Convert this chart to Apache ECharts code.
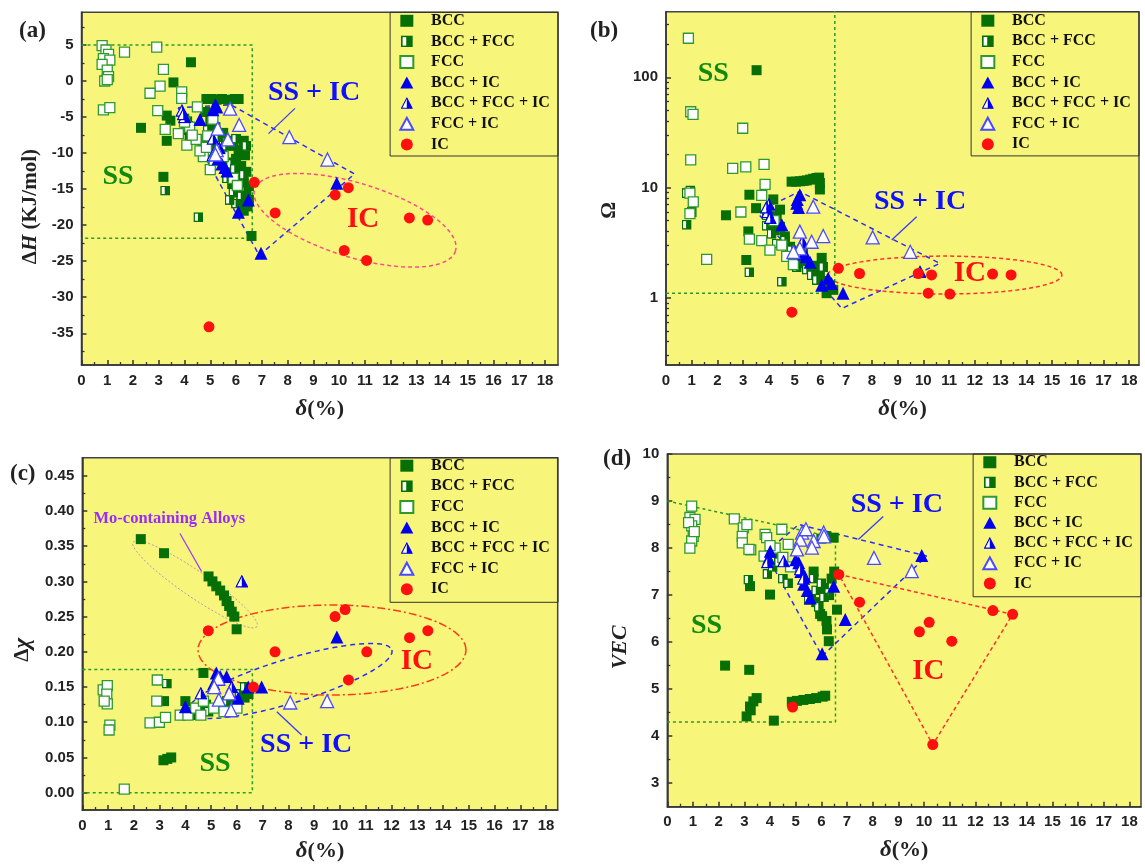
<!DOCTYPE html>
<html><head><meta charset="utf-8">
<script src="https://cdn.jsdelivr.net/npm/echarts@6/dist/echarts.min.js"></script>
<style>html,body{margin:0;padding:0;background:#fff}#c{width:1145px;height:866px}</style>
</head><body><div id="c"></div>
<script>
// ---------- names & tick labels ----------
const seriesNames = ['BCC','BCC + FCC','FCC','BCC + IC','BCC + FCC + IC','FCC + IC','IC'];
const xTickLabels = [0,1,2,3,4,5,6,7,8,9,10,11,12,13,14,15,16,17,18];
const yTickLabelsA = [5,0,-5,-10,-15,-20,-25,-30,-35];
const yTickLabelsB = [1,10,100];
const yTickLabelsC = [0,0.05,0.10,0.15,0.20,0.25,0.30,0.35,0.40,0.45];
const yTickLabelsD = [3,4,5,6,7,8,9,10];

// ---------- (a) delta vs dH ----------
const aBCC = [[4.25,2.6],[3.57,-0.2],[2.31,-6.5],[3.31,-4.8],[3.45,-5.5],[3.31,-8.3],[3.18,-13.3],[6.6,-21.5],[4.85,-2.5],[5.05,-2.5],[5.25,-2.6],[5.45,-2.5],[5.7,-2.6],[5.95,-2.5],[6.1,-2.5],[4.1,-5.6],[4.05,-6.8],[4.2,-7.8],[4.8,-4.3],[5.0,-5.5],[5.2,-6.4],[5.5,-7.2],[5.7,-8.3],[5.9,-9.0],[6.1,-9.6],[6.3,-8.3],[6.35,-10.3],[6.0,-10.8],[6.2,-11.8],[6.4,-12.6],[6.05,-13.1],[6.3,-14.1],[6.5,-14.6],[5.85,-14.3],[6.1,-15.4],[6.4,-15.9],[6.2,-16.9],[6.45,-17.4],[6.3,-18.0],[5.7,-12.1],[5.5,-11.0],[5.3,-9.5],[4.7,-8.5],[5.9,-11.3],[6.5,-16.5]];
const aBCCFCC = [[1.0,2.6],[3.25,-15.2],[4.54,-18.9],[4.0,-5.2],[4.15,-6.2],[4.5,-8.0],[4.9,-6.8],[5.0,-9.2],[5.3,-7.8],[5.45,-10.2],[5.6,-9.0],[5.65,-13.5],[5.8,-11.5],[5.95,-12.2],[6.1,-14.0],[6.2,-16.0],[5.9,-15.5],[6.0,-17.0],[6.3,-13.0],[6.4,-9.0],[6.0,-8.0],[5.75,-16.5]];
const aFCC = [[0.8,4.9],[0.95,4.3],[1.05,3.7],[0.85,3.1],[1.1,2.9],[0.8,2.3],[1.0,1.5],[1.05,0.6],[0.9,0.0],[1.0,0.2],[0.85,-4.0],[1.1,-3.7],[1.67,4.0],[2.92,4.7],[3.18,1.6],[3.05,-0.7],[2.66,-1.7],[3.89,-1.5],[3.89,-2.4],[2.96,-4.1],[4.5,-3.6],[3.25,-6.7],[3.76,-7.3],[4.09,-8.9],[4.73,-10.5],[4.2,-6.4],[4.0,-5.7],[4.45,-8.1],[4.6,-9.7],[4.85,-9.2],[5.0,-12.3],[5.15,-11.0],[5.5,-10.5],[5.9,-13.5],[6.05,-14.5],[4.3,-7.5],[4.9,-7.6],[5.1,-5.3]];
const aBCCIC = [[5.1,-4.0],[5.25,-3.6],[5.2,-3.3],[4.6,-5.35],[5.2,-10.0],[5.3,-10.8],[5.45,-11.5],[5.57,-12.0],[5.65,-12.5],[6.48,-16.5],[6.09,-18.2],[6.97,-23.9],[9.91,-14.2]];
const aBCCFCCIC = [[3.9,-4.1],[4.0,-5.0],[3.95,-4.6],[5.1,-10.3],[5.35,-9.3],[5.1,-8.0]];
const aFCCIC = [[5.77,-3.83],[6.12,-6.1],[5.29,-6.6],[5.68,-8.1],[5.25,-9.6],[5.2,-10.2],[8.07,-7.8],[9.55,-10.9]];
const aIC = [[6.71,-14.05],[7.52,-18.3],[9.85,-15.8],[10.36,-14.8],[10.2,-23.5],[11.07,-24.9],[12.73,-19.0],[13.44,-19.3],[4.95,-34.1]];

// ---------- (b) delta vs Omega ----------
const bBCC = [[3.52,116],[2.33,5.6],[3.24,8.6],[3.5,6.5],[3.12,2.2],[3.2,4.0],[4.88,11.3],[5.05,11.3],[5.21,11.4],[5.35,11.5],[5.47,11.6],[5.6,11.8],[5.72,12.0],[5.85,12.2],[5.95,12.3],[5.98,11.0],[5.98,9.6],[4.17,7.8],[4.43,6.3],[4.3,5.5],[4.43,4.4],[4.23,4.1],[4.62,3.6],[4.82,2.9],[5.08,2.6],[5.34,2.06],[5.6,1.85],[5.79,1.67],[5.98,1.56],[6.18,1.42],[6.37,1.3],[6.24,1.1],[6.5,1.18],[6.05,2.3],[5.86,1.95]];
const bBCCFCC = [[0.8,8.9],[0.95,9.4],[0.8,4.6],[1.0,6.0],[3.24,1.7],[4.5,1.4],[3.91,5.6],[3.91,4.5],[4.62,3.3],[4.88,2.7],[5.08,1.9],[5.47,1.8],[5.66,1.6],[6.11,1.9],[5.86,1.45],[5.34,2.7],[4.3,3.1],[4.1,3.8]];
const bFCC = [[0.87,226],[0.96,48.7],[1.05,46],[0.96,17.8],[0.93,8.9],[1.06,7.4],[0.93,5.8],[1.58,2.23],[2.98,34.5],[2.59,14.9],[3.1,15.4],[3.81,16.2],[3.85,10.7],[2.91,6.0],[3.24,3.4],[3.72,3.3],[4.04,2.7],[3.72,8.5],[4.69,2.37],[4.95,2.0],[5.21,2.5],[4.5,3.0],[4.2,5.0]];
const bBCCIC = [[5.2,8.6],[5.1,7.8],[5.08,7.2],[5.15,6.6],[4.5,4.6],[5.46,2.36],[5.35,2.5],[5.6,2.1],[6.05,1.3],[6.43,1.35],[6.88,1.1],[6.3,1.5]];
const bBCCFCCIC = [[4.0,7.0],[3.95,6.0],[4.05,5.3],[3.9,6.6],[9.87,1.72],[5.3,3.2]];
const bFCCIC = [[5.72,6.7],[6.11,3.63],[5.66,3.22],[5.2,3.98],[5.2,2.8],[4.95,2.6],[8.03,3.53],[9.49,2.61]];
const bIC = [[6.7,1.85],[7.52,1.66],[4.89,0.74],[9.8,1.66],[10.32,1.61],[10.19,1.1],[11.03,1.08],[12.69,1.64],[13.41,1.61]];

// ---------- (c) delta vs delta-chi ----------
const cBCC = [[2.27,0.36],[3.17,0.34],[4.9,0.307],[5.05,0.3],[5.2,0.293],[5.35,0.287],[5.5,0.28],[5.6,0.272],[5.7,0.265],[5.8,0.257],[5.9,0.25],[5.99,0.232],[4.7,0.17],[3.17,0.13],[3.15,0.046],[3.3,0.048],[3.45,0.05],[4.2,0.115],[4.6,0.12],[5.0,0.12],[5.5,0.125],[5.9,0.13],[6.2,0.14],[6.45,0.14],[6.3,0.135],[4.0,0.13],[4.8,0.125]];
const cBCCFCC = [[3.28,0.155],[4.4,0.12],[4.9,0.115],[5.4,0.12],[5.8,0.125],[6.1,0.14],[5.6,0.13],[4.3,0.11],[6.3,0.15]];
const cFCC = [[0.81,0.146],[0.97,0.152],[0.95,0.14],[0.97,0.126],[0.85,0.13],[1.07,0.096],[1.04,0.089],[1.63,0.005],[2.91,0.16],[2.89,0.13],[2.63,0.099],[2.99,0.1],[3.23,0.107],[3.8,0.11],[4.1,0.11],[4.4,0.12],[4.7,0.13],[5.1,0.12],[5.5,0.115],[6.0,0.12],[4.6,0.11]];
const cBCCIC = [[4.0,0.122],[5.2,0.17],[5.35,0.165],[5.6,0.165],[6.05,0.134],[6.44,0.15],[6.96,0.15],[9.88,0.221],[5.1,0.155]];
const cBCCFCCIC = [[6.19,0.3],[4.6,0.141],[5.3,0.16],[5.8,0.15]];
const cFCCIC = [[5.28,0.162],[5.12,0.15],[5.3,0.132],[5.7,0.141],[5.77,0.117],[8.07,0.128],[9.5,0.13]];
const cIC = [[4.89,0.23],[7.48,0.2],[6.64,0.15],[9.81,0.25],[10.2,0.26],[12.7,0.22],[13.41,0.23],[11.04,0.2],[10.33,0.16]];

// ---------- (d) delta vs VEC ----------
const dBCC = [[2.25,5.5],[3.19,5.41],[3.09,4.42],[3.22,4.63],[3.35,4.74],[3.48,4.81],[3.25,4.55],[4.15,4.33],[4.85,4.73],[5.05,4.75],[5.3,4.77],[5.55,4.79],[5.8,4.81],[6.05,4.84],[6.15,4.86],[4.0,7.01],[3.22,7.19],[6.03,6.55],[6.22,6.27],[6.29,6.02],[6.61,6.69],[6.48,8.22],[6.0,8.2],[6.2,8.25],[5.6,7.0],[5.8,6.85],[5.95,6.6],[6.1,7.15],[6.4,7.35],[6.3,7.0],[6.5,7.5],[5.7,7.5],[6.2,6.45]];
const dBCCFCC = [[3.16,7.33],[3.9,7.45],[4.1,7.6],[4.35,7.7],[4.5,7.35],[4.7,7.25],[5.7,7.35],[5.8,7.1],[6.0,7.25],[6.3,7.05],[5.5,6.9],[5.9,6.75],[6.1,6.95],[4.2,7.9]];
const dFCC = [[0.95,8.89],[0.88,8.65],[1.08,8.61],[0.95,8.47],[0.83,8.54],[1.01,8.25],[0.95,8.15],[0.88,8.0],[1.05,8.35],[2.61,8.62],[2.96,8.43],[3.1,8.5],[2.92,8.25],[2.92,8.11],[3.25,7.96],[3.81,8.29],[3.87,8.22],[3.77,7.83],[4.46,8.4],[4.71,8.08],[4.2,8.0],[4.5,7.8],[4.0,8.05],[3.18,7.97],[4.8,7.6]];
const dBCCIC = [[4.01,7.93],[3.95,7.79],[5.12,7.69],[5.2,7.5],[5.31,7.23],[5.57,6.94],[5.45,7.1],[5.0,7.75],[6.48,7.19],[6.93,6.48],[6.03,5.75],[9.91,7.84],[5.35,7.4]];
const dBCCFCCIC = [[4.53,7.72],[5.18,7.55],[5.3,7.35],[3.9,7.7]];
const dFCCIC = [[5.25,8.33],[5.18,8.18],[6.09,8.33],[5.7,8.15],[5.63,8.01],[5.05,7.97],[8.05,7.79],[9.52,7.51],[5.4,8.4],[6.1,8.25]];
const dIC = [[6.68,7.44],[7.49,6.85],[4.88,4.62],[12.68,6.67],[13.45,6.59],[10.2,6.42],[9.82,6.22],[11.08,6.02],[10.34,3.82]];

// ---------- guide shapes (data coordinates) ----------
const aSSBox = [[0,5],[6.63,5],[6.63,-21.8],[0,-21.8]];
const aSSICPoly = [[3.75,-3.7],[5.8,-3.3],[10.6,-12.9],[6.9,-24.2],[3.75,-3.7]];
const aICEllipse = {c:[10.62,-19.32], a:[3.90,-4.26], b:[-0.42,-4.91]};
const aArrow = [[8.29,-3.8],[7.26,-7.3]];

const bSSBox = [[0,1.1],[6.56,1.1],[6.56,400]];
const bSSICPoly = [[3.52,6.0],[5.2,9.2],[10.64,2.05],[6.83,0.8],[3.52,6.0]];
const bICEllipseLog = {c:[10.84,0.206], a:[4.55,0], b:[0,0.172]};
const bArrow = [[9.74,5.43],[8.77,3.34]];

const cSSBox = [[0,0.175],[6.6,0.175],[6.6,0],[0,0]];
const cMoEllipse = {c:[4.375,0.296], a:[2.41,-0.0603], b:[-0.285,-0.0152]};
const cMoArrow = [[3.79,0.368],[4.63,0.314]];
const cICEllipse = {c:[9.69,0.2026], a:[5.2,0], b:[0,0.0639]};
const cSSICEllipse = {c:[8.06,0.1586], a:[3.96,0.044], b:[0.248,-0.0299]};
const cArrow = [[8.51,0.082],[7.55,0.115]];

const dSSBox = [[0,9.0],[6.55,8.22],[6.55,4.3],[0,4.3]];
const dSSICPoly = [[3.82,7.9],[5.12,8.5],[10.1,7.83],[6.03,5.7],[3.82,7.9]];
const dICTri = [[6.68,7.44],[13.45,6.59],[10.34,3.82],[6.68,7.44]];
const dArrow = [[8.41,8.67],[7.44,8.18]];

// ---------- styles ----------
const SERIF = "'Liberation Serif','Times New Roman',serif";
const SANS = "'Liberation Sans',Arial,sans-serif";
const GREEN = '#067006', BLUE = '#0000ee', RED = '#ff1010';
const YELLOW = '#f8f67a';
function svgURI(s){ return 'image://data:image/svg+xml;charset=utf-8,' + encodeURIComponent(s); }
const halfSquare = svgURI("<svg xmlns='http://www.w3.org/2000/svg' width='20' height='20' viewBox='0 0 20 20'><rect width='20' height='20' fill='#067006'/><rect x='3' y='3' width='6' height='14' fill='#ffffff'/></svg>");
const halfTri = svgURI("<svg xmlns='http://www.w3.org/2000/svg' width='20' height='20' viewBox='0 0 20 20'><polygon points='10,1.5 10,18.5 1.2,18.5' fill='#ffffff'/><polygon points='10,1.5 18.8,18.5 10,18.5' fill='#0000ee'/><polygon points='10,1.5 18.8,18.5 1.2,18.5' fill='none' stroke='#0000ee' stroke-width='1.8'/></svg>");
const markerStyles = [
  {symbol:'rect', symbolSize:10, itemStyle:{color:GREEN}},
  {symbol:halfSquare, symbolSize:10, itemStyle:{color:GREEN}},
  {symbol:'rect', symbolSize:10, itemStyle:{color:'#ffffff', borderColor:'#2e9a2e', borderWidth:1.3}},
  {symbol:'triangle', symbolSize:13, itemStyle:{color:BLUE}},
  {symbol:halfTri, symbolSize:13, itemStyle:{color:BLUE}},
  {symbol:'triangle', symbolSize:13, itemStyle:{color:'#ffffff', borderColor:'#4a4aff', borderWidth:1.3}},
  {symbol:'circle', symbolSize:11, itemStyle:{color:RED}}
];

function ellipsePts(e){
  const pts = [];
  for (let i = 0; i <= 90; i++) {
    const t = i / 90 * 2 * Math.PI;
    pts.push([e.c[0] + e.a[0]*Math.cos(t) + e.b[0]*Math.sin(t), e.c[1] + e.a[1]*Math.cos(t) + e.b[1]*Math.sin(t)]);
  }
  return pts;
}
function mids(arr){ const s=[...arr].sort((p,q)=>p-q); const out=[]; for(let i=0;i<s.length-1;i++) out.push((s[i]+s[i+1])/2); return out; }
const log10 = Math.log10;
const logMinor = [0.3,0.4,0.5,0.6,0.7,0.8,0.9,2,3,4,5,6,7,8,9,20,30,40,50,60,70,80,90,200,300];

const idf = v => v;
const panels = [
  { grid:{left:81.5, top:12.3, width:476.5, height:352.7}, xr:[0,18.5], yr:[-39.4,9.53],
    yMajor:yTickLabelsA, yMinor:mids(yTickLabelsA).concat([-37.5,7.5]), yFmt:v=>String(v), ytf:idf,
    yName:'{d|Δ}{i|H}{d| (KJ/mol)}', yGap:40, yPad:36, xGap:33,
    data:[aBCC,aBCCFCC,aFCC,aBCCIC,aBCCFCCIC,aFCCIC,aIC],
    legend:{right:587, top:12.3, pt:0.5, pb:3.6, gap:4.6},
    title:{text:'(a)', left:19, top:20},
    guides:[{pts:aSSBox, color:'#2a9a2a', dash:[3,3]},{pts:aSSICPoly, color:'#2b2bff', dash:[5,4]},{pts:ellipsePts(aICEllipse), color:'#ff4a8a', dash:[4,3]}],
    arrows:[{p:aArrow, color:'#3a3aff'}],
    texts:[{at:[1.42,-13.3], t:'SS', color:'#108a10', size:28},{at:[9.03,-1.66], t:'SS + IC', color:'#1010ff', size:28},{at:[10.93,-19.27], t:'IC', color:'#ff1010', size:29}]
  },
  { grid:{left:666, top:11.7, width:473, height:353.3}, xr:[0,18.38], yr:[-0.61,2.595],
    yMajor:yTickLabelsB.map(log10), yMinor:logMinor.map(log10), yFmt:v=>String(Math.round(Math.pow(10,v))), ytf:log10,
    yName:'{d|Ω}', yGap:46, yPad:44, xGap:33,
    data:[bBCC,bBCCFCC,bFCC,bBCCIC,bBCCFCCIC,bFCCIC,bIC],
    legend:{right:6, top:11.7, pt:1, pb:3.6, gap:4.6},
    title:{text:'(b)', left:590, top:20},
    guides:[{pts:bSSBox, color:'#2a9a2a', dash:[3,3]},{pts:bSSICPoly, color:'#2b2bff', dash:[5,4]},{pts:ellipsePts(bICEllipseLog), color:'#ff3030', dash:[4,3], raw:true}],
    arrows:[{p:bArrow, color:'#3a3aff'}],
    texts:[{at:[1.84,108.7], t:'SS', color:'#108a10', size:28},{at:[9.87,7.43], t:'SS + IC', color:'#1010ff', size:28},{at:[11.81,1.66], t:'IC', color:'#ff1010', size:29}]
  },
  { grid:{left:82.3, top:457.7, width:475.4, height:352.3}, xr:[0,18.45], yr:[-0.0246,0.4756],
    yMajor:yTickLabelsC, yMinor:mids(yTickLabelsC), yFmt:v=>v.toFixed(2), ytf:idf,
    yName:'{d|Δ}{c|χ}', yGap:48, yPad:32, xGap:30,
    data:[cBCC,cBCCFCC,cFCC,cBCCIC,cBCCFCCIC,cFCCIC,cIC],
    legend:{right:587, top:457.7, pt:0, pb:5, gap:4.6},
    title:{text:'(c)', left:10, top:463},
    guides:[{pts:cSSBox, color:'#2a9a2a', dash:[3,3]},{pts:ellipsePts(cMoEllipse), color:'#c48ac8', dash:[2,2], width:1},{pts:ellipsePts(cICEllipse), color:'#ff3a1a', dash:[8,3,2,3]},{pts:ellipsePts(cSSICEllipse), color:'#2b2bff', dash:[5,4]}],
    arrows:[{p:cMoArrow, color:'#9a3aff'},{p:cArrow, color:'#3a3aff'}],
    texts:[{at:[0.415,0.3886], t:'Mo-containing Alloys', color:'#9a2aff', size:16.5, left:true},{at:[5.15,0.0417], t:'SS', color:'#108a10', size:28},{at:[8.69,0.0678], t:'SS + IC', color:'#1010ff', size:28},{at:[12.98,0.186], t:'IC', color:'#ff1010', size:29}]
  },
  { grid:{left:667.3, top:454, width:473.7, height:352.7}, xr:[0,18.45], yr:[2.5,10],
    yMajor:yTickLabelsD, yMinor:mids(yTickLabelsD).concat([9.5]).filter((v,i,a)=>a.indexOf(v)===i), yFmt:v=>String(v), ytf:idf,
    yName:'{v|VEC}', yGap:36, yPad:34, xGap:32,
    data:[dBCC,dBCCFCC,dFCC,dBCCIC,dBCCFCCIC,dFCCIC,dIC],
    legend:{right:4, top:454, pt:0.25, pb:5.3, gap:4.2},
    title:{text:'(d)', left:603, top:448},
    guides:[{pts:dSSBox, color:'#2a9a2a', dash:[3,3]},{pts:dSSICPoly, color:'#2b2bff', dash:[5,4]},{pts:dICTri, color:'#ff3030', dash:[4,3]}],
    arrows:[{p:dArrow, color:'#3a3aff'}],
    texts:[{at:[1.53,6.34], t:'SS', color:'#108a10', size:28},{at:[8.94,8.93], t:'SS + IC', color:'#1010ff', size:28},{at:[10.17,5.38], t:'IC', color:'#ff1010', size:29}]
  }
];

const AX = '#333';
const option = {animation:false, backgroundColor:'#ffffff', title:[], legend:[], grid:[], xAxis:[], yAxis:[], series:[]};

panels.forEach((P, gi) => {
  option.grid.push(Object.assign({show:true, backgroundColor:YELLOW, borderColor:'#444', borderWidth:1.5, containLabel:false, outerBoundsMode:'none'}, P.grid));
  option.title.push({text:P.title.text, left:P.title.left, top:P.title.top, padding:0, textStyle:{fontFamily:SERIF, fontWeight:'bold', fontSize:23, color:'#222'}});
  const xMinor = mids(xTickLabels).concat([18.5]).filter(v => v < P.xr[1] - 0.05);
  option.xAxis.push({type:'value', gridIndex:gi, min:P.xr[0], max:P.xr[1], position:'bottom',
    axisLine:{show:true, onZero:false, lineStyle:{color:AX, width:1.5}},
    axisTick:{show:true, inside:true, length:5, customValues:xTickLabels, lineStyle:{color:AX, width:1.5}},
    axisLabel:{show:true, customValues:xTickLabels, margin:8, color:'#222', fontFamily:SANS, fontWeight:'bold', fontSize:15},
    splitLine:{show:false},
    name:'{i|δ}{d|(%)}', nameLocation:'middle', nameGap:P.xGap,
    nameTextStyle:{fontFamily:SERIF, fontWeight:'bold', fontSize:22, color:'#222',
      rich:{i:{fontFamily:SERIF, fontStyle:'italic', fontWeight:'bold', fontSize:23, color:'#222'}, d:{fontFamily:SERIF, fontWeight:'bold', fontSize:22, color:'#222'}}}
  });
  option.xAxis.push({type:'value', gridIndex:gi, min:P.xr[0], max:P.xr[1], position:'top', offset:-P.grid.height,
    axisLine:{show:false, onZero:false}, axisTick:{show:true, inside:false, length:3, customValues:xMinor, lineStyle:{color:AX, width:1.3}},
    axisLabel:{show:false}, splitLine:{show:false}});
  option.yAxis.push({type:'value', gridIndex:gi, min:P.yr[0], max:P.yr[1], position:'left',
    axisLine:{show:true, onZero:false, lineStyle:{color:AX, width:1.5}},
    axisTick:{show:true, inside:true, length:5, customValues:P.yMajor, lineStyle:{color:AX, width:1.5}},
    axisLabel:{show:true, customValues:P.yMajor, formatter:P.yFmt, margin:8, color:'#222', fontFamily:SANS, fontWeight:'bold', fontSize:15},
    splitLine:{show:false},
    name:P.yName, nameLocation:'middle', nameGap:P.yGap, nameRotate:90,
    nameTextStyle:{fontFamily:SERIF, fontWeight:'bold', fontSize:21, color:'#222', padding:[0,P.yPad,0,0],
      rich:{d:{fontFamily:SERIF, fontWeight:'bold', fontSize:21, color:'#222'}, i:{fontFamily:SERIF, fontStyle:'italic', fontWeight:'bold', fontSize:21, color:'#222'},
            c:{fontFamily:SERIF, fontStyle:'italic', fontWeight:'bold', fontSize:23, color:'#222'}, v:{fontFamily:SERIF, fontStyle:'italic', fontWeight:'bold', fontSize:22, color:'#222'}}}
  });
  option.yAxis.push({type:'value', gridIndex:gi, min:P.yr[0], max:P.yr[1], position:'right', offset:-P.grid.width,
    axisLine:{show:false, onZero:false}, axisTick:{show:true, inside:false, length:3, customValues:P.yMinor.filter(v => v > P.yr[0] && v < P.yr[1]), lineStyle:{color:AX, width:1.3}},
    axisLabel:{show:false}, splitLine:{show:false}});

  const xi = 2*gi, yi = 2*gi;
  P.guides.forEach(g => {
    option.series.push({type:'line', name:'guide', xAxisIndex:xi, yAxisIndex:yi, silent:true, z:1,
      symbol:'none', data:g.pts.map(p => [p[0], g.raw ? p[1] : P.ytf(p[1])]),
      lineStyle:{color:g.color, width:g.width || 1.5, type:g.dash, opacity:1}});
  });
  seriesNames.forEach((nm, k) => {
    option.series.push({type:'scatter', name:nm, xAxisIndex:xi, yAxisIndex:yi, silent:true, z:3+k,
      symbol:markerStyles[k].symbol, symbolSize:markerStyles[k].symbolSize, itemStyle:Object.assign({opacity:1}, markerStyles[k].itemStyle),
      data:P.data[k].map(p => [p[0], P.ytf(p[1])])});
  });
  P.arrows.forEach(a => {
    option.series.push({type:'line', name:'arrow', xAxisIndex:xi, yAxisIndex:yi, silent:true, z:12, data:[], symbol:'none',
      markLine:{silent:true, symbol:['none','arrow'], symbolSize:[0,[7,11]], label:{show:false}, animation:false,
        lineStyle:{color:a.color, width:1.3, type:'solid', opacity:1}, itemStyle:{color:a.color},
        data:[[{coord:[a.p[0][0], P.ytf(a.p[0][1])]}, {coord:[a.p[1][0], P.ytf(a.p[1][1])]}]]}});
  });
  option.series.push({type:'scatter', name:'texts', xAxisIndex:xi, yAxisIndex:yi, silent:true, z:15, symbolSize:1, itemStyle:{color:'rgba(0,0,0,0)', opacity:1},
    data:P.texts.map(t => ({value:[t.at[0], P.ytf(t.at[1])], label:{show:true, position:t.left ? 'right' : 'inside', distance:0, formatter:t.t,
      color:t.color, opacity:1, fontFamily:SERIF, fontWeight:'bold', fontSize:t.size}}))});
  const L = P.legend;
  option.legend.push({data:seriesNames, orient:'vertical', right:L.right, top:L.top, itemWidth:13, itemHeight:12, itemGap:L.gap,
    padding:[L.pt, 8.2, L.pb, 9.2], borderColor:'#333', borderWidth:1, backgroundColor:'transparent', selectedMode:false,
    itemStyle:{opacity:1},
    textStyle:{fontFamily:SERIF, fontWeight:'bold', fontSize:16, color:'#111', padding:[0,0,0,12.8]}});
});

const chart = echarts.init(document.getElementById('c'), null, {renderer:'canvas'});
chart.setOption(option);
</script></body></html>
